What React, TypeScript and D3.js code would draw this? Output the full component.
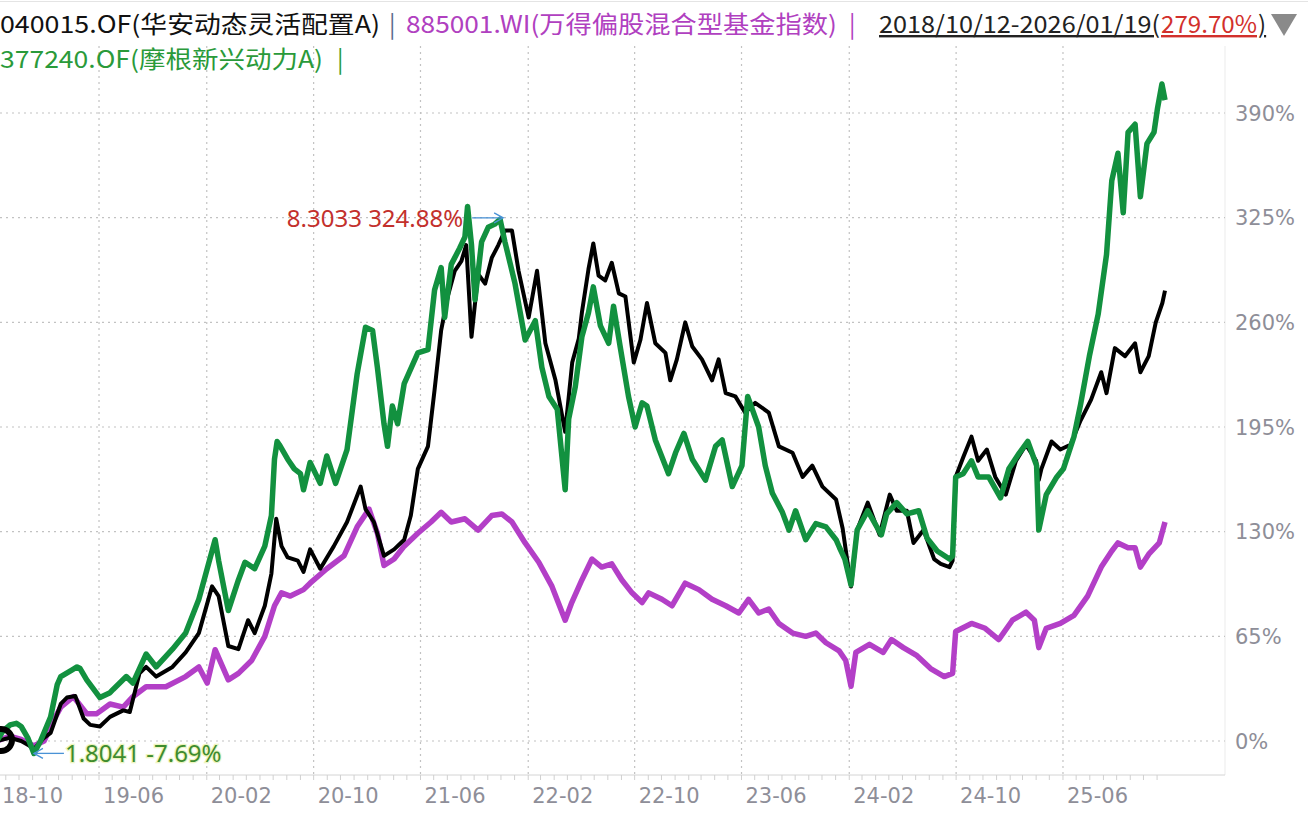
import React, { useEffect, useRef } from 'react';
import * as d3 from 'd3';

type Pt = [string, number];

// 040015.OF 华安动态灵活配置A (black)
const fund040015: Pt[] = [
  ['2018-10-12', 0], ['2018-11-10', 2], ['2018-12-06', 0], ['2018-12-25', -3], ['2019-01-04', -5],
  ['2019-01-27', 2], ['2019-02-11', 5], ['2019-02-25', 16], ['2019-03-06', 23], ['2019-03-20', 27],
  ['2019-04-08', 28], ['2019-04-27', 14], ['2019-05-12', 10], ['2019-06-03', 9], ['2019-06-26', 15],
  ['2019-07-26', 19], ['2019-08-10', 18], ['2019-09-01', 42], ['2019-09-16', 46], ['2019-10-09', 40],
  ['2019-11-15', 46], ['2019-12-15', 55], ['2020-01-14', 67], ['2020-02-13', 96], ['2020-02-28', 90],
  ['2020-03-21', 59], ['2020-04-13', 57], ['2020-05-05', 75], ['2020-05-20', 67], ['2020-06-12', 84],
  ['2020-06-27', 104], ['2020-07-08', 138], ['2020-07-20', 121], ['2020-08-03', 114], ['2020-08-26', 112],
  ['2020-09-08', 105], ['2020-09-23', 119], ['2020-10-16', 107], ['2020-11-16', 121], ['2020-12-16', 136],
  ['2021-01-16', 158], ['2021-01-27', 144], ['2021-02-15', 136], ['2021-03-10', 115], ['2021-04-02', 119],
  ['2021-04-25', 125], ['2021-05-10', 140], ['2021-05-26', 169], ['2021-06-18', 183], ['2021-07-03', 218],
  ['2021-07-18', 255], ['2021-08-02', 276], ['2021-08-18', 292], ['2021-09-02', 298], ['2021-09-13', 308],
  ['2021-09-25', 251], ['2021-10-10', 290], ['2021-10-26', 284], ['2021-11-10', 300], ['2021-11-25', 308],
  ['2021-12-10', 317], ['2021-12-26', 317], ['2022-01-10', 292], ['2022-02-02', 263], ['2022-02-21', 292],
  ['2022-03-12', 247], ['2022-04-04', 224], ['2022-04-26', 192], ['2022-05-12', 235], ['2022-05-27', 250],
  ['2022-06-03', 266], ['2022-06-18', 293], ['2022-06-29', 309], ['2022-07-11', 289], ['2022-07-26', 286],
  ['2022-08-10', 297], ['2022-08-26', 278], ['2022-09-10', 276], ['2022-09-29', 235], ['2022-10-14', 249],
  ['2022-10-29', 272], ['2022-11-17', 247], ['2022-12-10', 241], ['2022-12-21', 224], ['2023-01-05', 237],
  ['2023-01-24', 260], ['2023-02-09', 245], ['2023-03-03', 237], ['2023-03-26', 224], ['2023-04-10', 237],
  ['2023-04-26', 216], ['2023-05-18', 214], ['2023-06-09', 204], ['2023-07-02', 210], ['2023-08-02', 204],
  ['2023-08-25', 183], ['2023-09-25', 179], ['2023-10-18', 164], ['2023-11-09', 171], ['2023-12-02', 158],
  ['2024-01-02', 150], ['2024-01-17', 132], ['2024-02-05', 96], ['2024-02-19', 131], ['2024-03-14', 148],
  ['2024-04-10', 128], ['2024-05-03', 153], ['2024-05-19', 143], ['2024-06-11', 143], ['2024-06-26', 123],
  ['2024-07-19', 131], ['2024-08-12', 113], ['2024-08-27', 110], ['2024-09-16', 108], ['2024-09-23', 112],
  ['2024-09-30', 164], ['2024-10-17', 176], ['2024-11-05', 189], ['2024-11-20', 174], ['2024-12-10', 181],
  ['2024-12-29', 164], ['2025-01-22', 153], ['2025-02-14', 174], ['2025-03-09', 184], ['2025-04-01', 174],
  ['2025-04-07', 162], ['2025-04-13', 169], ['2025-05-06', 186], ['2025-05-26', 181], ['2025-06-18', 184],
  ['2025-07-11', 199], ['2025-08-04', 212], ['2025-08-27', 229], ['2025-09-08', 216], ['2025-09-27', 244],
  ['2025-10-20', 239], ['2025-11-12', 247], ['2025-11-24', 229], ['2025-12-13', 239], ['2025-12-29', 260],
  ['2026-01-13', 272], ['2026-01-19', 279.7],
];

// 885001.WI 万得偏股混合型基金指数 (magenta)
const index885001: Pt[] = [
  ['2018-10-12', 0], ['2018-11-10', 3], ['2018-12-06', 1], ['2019-01-04', -3], ['2019-01-27', 0],
  ['2019-02-18', 13], ['2019-03-06', 21], ['2019-04-04', 27.5], ['2019-05-04', 17], ['2019-05-27', 17],
  ['2019-06-26', 23], ['2019-07-26', 21], ['2019-08-17', 27.5], ['2019-09-16', 33.7], ['2019-10-31', 33.7],
  ['2019-12-15', 40], ['2020-01-14', 46], ['2020-02-02', 36], ['2020-02-20', 56.7], ['2020-03-21', 38],
  ['2020-04-13', 42], ['2020-05-13', 50], ['2020-06-12', 65], ['2020-07-04', 84], ['2020-07-20', 92],
  ['2020-08-09', 90], ['2020-09-08', 94], ['2020-09-23', 98], ['2020-10-31', 107], ['2020-12-09', 115],
  ['2021-01-08', 133], ['2021-02-04', 144], ['2021-02-23', 129], ['2021-03-10', 109], ['2021-04-02', 113],
  ['2021-04-25', 121], ['2021-05-26', 129], ['2021-06-25', 136], ['2021-07-18', 142], ['2021-08-10', 136],
  ['2021-09-10', 138], ['2021-10-10', 131], ['2021-11-10', 140], ['2021-12-03', 141], ['2021-12-26', 136],
  ['2022-01-25', 123], ['2022-02-25', 111], ['2022-03-27', 96], ['2022-04-26', 75], ['2022-05-11', 86],
  ['2022-06-03', 100], ['2022-06-26', 113], ['2022-07-18', 108], ['2022-08-10', 110], ['2022-09-02', 100],
  ['2022-09-25', 92], ['2022-10-18', 86], ['2022-11-02', 92], ['2022-12-02', 88], ['2022-12-25', 84],
  ['2023-01-24', 98], ['2023-02-24', 94], ['2023-03-26', 88], ['2023-04-26', 84], ['2023-05-26', 79.5],
  ['2023-06-17', 88], ['2023-07-10', 79.5], ['2023-08-02', 82], ['2023-08-25', 73], ['2023-09-25', 67],
  ['2023-10-25', 65], ['2023-11-17', 67], ['2023-12-10', 61], ['2024-01-09', 56], ['2024-01-24', 50],
  ['2024-02-05', 34], ['2024-02-16', 55], ['2024-03-18', 60], ['2024-04-18', 55], ['2024-05-07', 63],
  ['2024-06-03', 58], ['2024-07-04', 53], ['2024-08-04', 45], ['2024-09-04', 40], ['2024-09-23', 42],
  ['2024-09-30', 68], ['2024-11-05', 73], ['2024-12-06', 70], ['2025-01-06', 63], ['2025-02-06', 75],
  ['2025-03-09', 80], ['2025-03-28', 75], ['2025-04-07', 58], ['2025-04-24', 70], ['2025-05-26', 73],
  ['2025-06-26', 78], ['2025-07-27', 90], ['2025-08-27', 108], ['2025-09-20', 118], ['2025-10-04', 123],
  ['2025-10-27', 120], ['2025-11-12', 120], ['2025-11-24', 108], ['2025-12-13', 116], ['2026-01-06', 123],
  ['2026-01-19', 136],
];

// 377240.OF 摩根新兴动力A (green)
const fund377240: Pt[] = [
  ['2018-10-12', 0], ['2018-10-25', 6], ['2018-11-11', 10], ['2018-11-25', 11], ['2018-12-06', 9],
  ['2018-12-21', 2], ['2019-01-04', -7.7], ['2019-01-19', 0], ['2019-02-11', 15], ['2019-02-26', 35],
  ['2019-03-06', 40], ['2019-03-31', 44], ['2019-04-12', 46], ['2019-04-19', 45], ['2019-05-04', 38],
  ['2019-06-03', 27], ['2019-06-26', 30], ['2019-07-03', 32], ['2019-08-02', 40], ['2019-08-17', 36],
  ['2019-09-16', 54], ['2019-10-09', 46], ['2019-11-15', 57], ['2019-12-15', 67], ['2020-01-14', 88],
  ['2020-02-20', 125], ['2020-02-28', 112], ['2020-03-21', 81], ['2020-04-13', 100], ['2020-04-28', 111],
  ['2020-05-20', 107], ['2020-06-12', 121], ['2020-06-27', 140], ['2020-07-04', 175], ['2020-07-10', 186],
  ['2020-07-15', 184], ['2020-08-03', 175], ['2020-08-18', 169], ['2020-09-01', 166], ['2020-09-08', 156],
  ['2020-09-23', 173], ['2020-10-16', 160], ['2020-10-31', 177], ['2020-11-20', 160], ['2020-12-16', 181],
  ['2021-01-08', 228], ['2021-01-27', 257], ['2021-02-12', 255], ['2021-02-23', 232], ['2021-03-10', 197],
  ['2021-03-18', 183], ['2021-03-29', 208], ['2021-04-10', 197], ['2021-04-25', 222], ['2021-05-26', 241],
  ['2021-06-18', 243], ['2021-07-03', 280], ['2021-07-18', 294], ['2021-07-26', 263], ['2021-08-10', 296],
  ['2021-08-29', 306], ['2021-09-10', 313], ['2021-09-16', 332], ['2021-09-25', 308], ['2021-10-03', 274],
  ['2021-10-18', 310], ['2021-11-02', 319], ['2021-11-17', 321], ['2021-11-29', 324], ['2021-12-10', 310],
  ['2022-01-02', 284], ['2022-01-25', 249], ['2022-02-17', 261], ['2022-03-04', 232], ['2022-03-20', 214],
  ['2022-04-08', 206], ['2022-04-26', 156], ['2022-05-04', 200], ['2022-05-19', 220], ['2022-06-03', 251],
  ['2022-06-18', 266], ['2022-06-29', 282], ['2022-07-15', 258], ['2022-08-03', 247], ['2022-08-14', 270],
  ['2022-08-29', 245], ['2022-09-17', 214], ['2022-10-02', 195], ['2022-10-18', 210], ['2022-10-29', 208],
  ['2022-11-17', 187], ['2022-12-17', 166], ['2023-01-02', 179], ['2023-01-21', 191], ['2023-02-09', 175],
  ['2023-03-11', 162], ['2023-04-03', 183], ['2023-04-18', 187], ['2023-05-11', 158], ['2023-06-02', 171],
  ['2023-06-15', 214], ['2023-07-10', 195], ['2023-07-25', 171], ['2023-08-10', 154], ['2023-09-02', 142],
  ['2023-09-17', 131], ['2023-10-02', 143], ['2023-10-25', 125], ['2023-11-17', 135], ['2023-12-10', 133],
  ['2024-01-02', 125], ['2024-01-10', 120], ['2024-01-22', 113], ['2024-02-05', 97], ['2024-02-19', 131],
  ['2024-03-14', 143], ['2024-04-14', 128], ['2024-04-26', 141], ['2024-05-19', 148], ['2024-06-11', 141],
  ['2024-07-08', 143], ['2024-07-27', 126], ['2024-08-19', 118], ['2024-09-16', 113], ['2024-09-23', 115],
  ['2024-09-30', 164], ['2024-10-17', 166], ['2024-11-05', 174], ['2024-11-20', 164], ['2024-12-14', 164],
  ['2025-01-10', 151], ['2025-01-29', 169], ['2025-02-22', 179], ['2025-03-13', 186], ['2025-04-02', 171],
  ['2025-04-07', 131], ['2025-04-24', 153], ['2025-05-18', 164], ['2025-06-02', 169], ['2025-06-26', 189],
  ['2025-07-11', 209], ['2025-07-31', 239], ['2025-08-20', 265], ['2025-09-08', 302], ['2025-09-20', 348],
  ['2025-10-04', 365], ['2025-10-16', 328], ['2025-10-27', 378], ['2025-11-12', 383], ['2025-11-24', 338],
  ['2025-12-09', 371], ['2025-12-25', 378], ['2026-01-02', 393], ['2026-01-12', 408], ['2026-01-19', 398],
];

const startDate = '2018-10-12';
const endDate = '2026-01-19';

const yTicks = [0, 65, 130, 195, 260, 325, 390];
const xTickLabels = ['18-10', '19-06', '20-02', '20-10', '21-06', '22-02', '22-10', '23-06', '24-02', '24-10', '25-06'];
const xTickDates = ['2018-10-12', '2019-06-01', '2020-02-01', '2020-10-01', '2021-06-01', '2022-02-01',
  '2022-10-01', '2023-06-01', '2024-02-01', '2024-10-01', '2025-06-01'];

const maxNote = { date: '2021-12-06', value: 324.88, label: '8.3033 324.88%' };
const minNote = { date: '2019-01-04', value: -7.69, label: '1.8041 -7.69%' };

const W = 1308;
const H = 818;
const PLOT_RIGHT = 1225;
const PLOT_TOP = 46;
const PLOT_BOTTOM = 775;

const parse = d3.timeParse('%Y-%m-%d');
const AXIS_FONT = '"DejaVu Sans", sans-serif';
const NOTE_FONT = '"Noto Sans", "Noto Sans CJK SC", sans-serif';
const HEAD_FONT = '"Noto Sans CJK SC", sans-serif';

const App: React.FC = () => {
  const svgRef = useRef<SVGSVGElement>(null);

  useEffect(() => {
    document.body.style.margin = '0';
    if (!svgRef.current) return;

    const svg = d3.select(svgRef.current);
    svg.selectAll('*').remove();

    const x = d3.scaleTime()
      .domain([parse(startDate)!, parse(endDate)!])
      .range([-3, 1165]);

    const y = d3.scaleLinear()
      .domain([0, 390])
      .range([741, 113]);

    // frame bits
    svg.append('line')
      .attr('x1', 0).attr('x2', W).attr('y1', 1.5).attr('y2', 1.5)
      .attr('stroke', '#e4e4e4');

    svg.append('line')
      .attr('x1', PLOT_RIGHT).attr('x2', PLOT_RIGHT).attr('y1', PLOT_TOP).attr('y2', PLOT_BOTTOM)
      .attr('stroke', '#ebebeb');

    // horizontal grid
    svg.append('g')
      .selectAll('line')
      .data(yTicks)
      .enter()
      .append('line')
      .attr('x1', 0)
      .attr('x2', PLOT_RIGHT)
      .attr('y1', d => y(d))
      .attr('y2', d => y(d))
      .attr('stroke', '#c2c2c2')
      .attr('stroke-width', 1.2)
      .attr('stroke-dasharray', '2,4');

    // vertical grid
    svg.append('g')
      .selectAll('line')
      .data(xTickDates.slice(1))
      .enter()
      .append('line')
      .attr('x1', d => x(parse(d)!))
      .attr('x2', d => x(parse(d)!))
      .attr('y1', PLOT_TOP)
      .attr('y2', PLOT_BOTTOM)
      .attr('stroke', '#c2c2c2')
      .attr('stroke-width', 1.2)
      .attr('stroke-dasharray', '2,4');

    // bottom axis line + monthly ticks
    svg.append('line')
      .attr('x1', 0).attr('x2', PLOT_RIGHT).attr('y1', PLOT_BOTTOM).attr('y2', PLOT_BOTTOM)
      .attr('stroke', '#d4d4d4');

    const months = d3.timeMonth.range(parse(startDate)!, parse('2026-02-01')!);
    svg.append('g')
      .selectAll('line')
      .data(months)
      .enter()
      .append('line')
      .attr('x1', d => x(d))
      .attr('x2', d => x(d))
      .attr('y1', PLOT_BOTTOM)
      .attr('y2', PLOT_BOTTOM + 5)
      .attr('stroke', '#d0d0d0');

    // y labels (right)
    svg.append('g')
      .selectAll('text')
      .data(yTicks)
      .enter()
      .append('text')
      .attr('x', 1235)
      .attr('y', d => y(d) + 7.5)
      .style('font-family', AXIS_FONT)
      .style('font-size', '21px')
      .style('fill', '#8e8e98')
      .text(d => `${d}%`);

    // x labels
    svg.append('g')
      .selectAll('text')
      .data(xTickDates)
      .enter()
      .append('text')
      .attr('x', (d, i) => x(parse(d)!) + (i === 0 ? 5 : 4))
      .attr('y', 803)
      .style('font-family', AXIS_FONT)
      .style('font-size', '21px')
      .style('fill', '#8e8e98')
      .text((d, i) => xTickLabels[i]);

    // series
    const line = d3.line<Pt>()
      .x(d => x(parse(d[0])!))
      .y(d => y(d[1]));

    const series: { data: Pt[]; color: string; width: number }[] = [
      { data: index885001, color: '#b33fc7', width: 5.5 },
      { data: fund040015, color: '#000000', width: 4 },
      { data: fund377240, color: '#12913f', width: 5.5 },
    ];

    series.forEach(s => {
      svg.append('path')
        .datum(s.data)
        .attr('fill', 'none')
        .attr('stroke', s.color)
        .attr('stroke-width', s.width)
        .attr('stroke-linejoin', 'round')
        .attr('d', line);
    });

    // start marker (ring, partly clipped by the left edge)
    svg.append('circle')
      .attr('cx', x(parse(startDate)!) + 4)
      .attr('cy', y(0) - 1)
      .attr('r', 11)
      .attr('fill', 'none')
      .attr('stroke', '#000')
      .attr('stroke-width', 6);

    // max annotation
    const mx = x(parse(maxNote.date)!);
    const my = y(maxNote.value);
    const arrowColor = '#4a92d6';
    svg.append('line')
      .attr('x1', mx - 31).attr('x2', mx).attr('y1', my).attr('y2', my)
      .attr('stroke', arrowColor).attr('stroke-width', 1.3);
    svg.append('path')
      .attr('d', `M${mx - 9},${my - 5}L${mx},${my}L${mx - 9},${my + 5}`)
      .attr('fill', 'none').attr('stroke', arrowColor).attr('stroke-width', 1.3);
    svg.append('text')
      .attr('x', mx - 40)
      .attr('y', my + 9)
      .attr('text-anchor', 'end')
      .style('font-family', NOTE_FONT)
      .style('font-size', '24px')
      .style('fill', '#c3302c')
      .text(maxNote.label);

    // min annotation
    const nx = x(parse(minNote.date)!);
    const ny = y(minNote.value);
    svg.append('line')
      .attr('x1', nx).attr('x2', nx + 30).attr('y1', ny).attr('y2', ny)
      .attr('stroke', arrowColor).attr('stroke-width', 1.3);
    svg.append('path')
      .attr('d', `M${nx + 9},${ny - 5}L${nx},${ny}L${nx + 9},${ny + 5}`)
      .attr('fill', 'none').attr('stroke', arrowColor).attr('stroke-width', 1.3);
    svg.append('text')
      .attr('x', nx + 31)
      .attr('y', ny + 8.5)
      .style('font-family', NOTE_FONT)
      .style('font-size', '24px')
      .style('fill', '#3f8c2e')
      .style('stroke', '#eef5c0')
      .style('stroke-width', 2.5)
      .style('paint-order', 'stroke')
      .text(minNote.label);

    // header: each piece stretched to the width it takes in the reference
    const head = svg.append('g')
      .style('font-family', HEAD_FONT)
      .style('font-size', '24px');

    const seg = (txt: string, x0: number, y0: number, len: number | null, color: string, underline = false) => {
      const t = head.append('text').attr('x', x0).attr('y', y0).style('fill', color).text(txt);
      if (len) t.attr('textLength', len).attr('lengthAdjust', 'spacingAndGlyphs');
      if (underline) t.style('text-decoration', 'underline');
      return t;
    };

    seg('040015.OF(华安动态灵活配置A)', 0, 33, 380, '#111');
    seg('|', 389, 33, null, '#5b6b8c');
    seg('885001.WI(万得偏股混合型基金指数)', 406, 33, 431, '#b040c0');
    seg('|', 849, 33, null, '#b040c0');
    seg('2018/10/12-2026/01/19(', 879, 33, 281, '#222', true);
    seg('279.70%', 1161, 33, 96, '#d2302c', true);
    seg(')', 1258, 33, null, '#222', true);

    head.append('path')
      .attr('d', 'M1271,14L1297,14L1284,36Z')
      .attr('fill', '#8a8a8a');

    seg('377240.OF(摩根新兴动力A)', 0, 68, 323, '#2a9a3a');
    seg('|', 337, 68, null, '#2a9a3a');
  }, []);

  return (
    <div style={{ width: W, height: H, background: '#ffffff' }}>
      <svg ref={svgRef} width={W} height={H} style={{ display: 'block' }}></svg>
    </div>
  );
};

export default App;
